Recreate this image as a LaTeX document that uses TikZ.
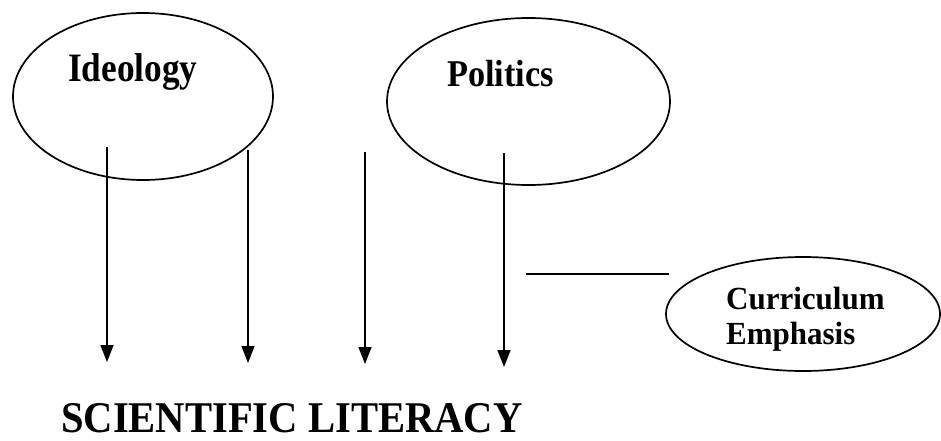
\documentclass[tikz,border=0pt]{standalone}
\usepackage{fontspec}
\setmainfont{Liberation Serif}
\usetikzlibrary{shapes.geometric,arrows.meta}
\begin{document}
\begin{tikzpicture}[x=1pt,y=-1pt,
  oval/.style={draw,ellipse,line width=1.7pt,inner sep=0pt},
  lbl/.style={font=\bfseries, inner sep=0pt, anchor=base west},
  downarrow/.style={line width=1.5pt,-{Triangle[length=17pt,width=13pt]}},
  plainline/.style={line width=1.5pt}]
\useasboundingbox (0,0) rectangle (941,441);
% ellipses
\node[oval,minimum width=260pt,minimum height=167pt] (ideo) at (143,96.5) {};
\node[oval,minimum width=283pt,minimum height=167pt] (poli) at (528.5,101.5) {};
\node[oval,minimum width=274pt,minimum height=114pt] (curr) at (803,314) {};
% labels
\node[lbl,font=\bfseries\fontsize{36}{40}\selectfont] (ideoT) at (68,82) {\scalebox{0.98}[1.12]{Ideology}};
\node[lbl,font=\bfseries\fontsize{35}{40}\selectfont] (poliT) at (447,87) {\scalebox{0.98}[1.08]{Politics}};
\node[lbl,font=\bfseries\fontsize{31}{35}\selectfont] (currA) at (726,309) {\scalebox{1}[1.04]{Curriculum}};
\node[lbl,font=\bfseries\fontsize{31}{35}\selectfont] (currB) at (726,344) {\scalebox{1}[1.04]{Emphasis}};
\node[lbl,font=\bfseries\fontsize{41}{45}\selectfont] (sci) at (61,432) {\scalebox{0.99}[1.07]{SCIENTIFIC LITERACY}};
% arrow coordinates
\coordinate (a1s) at (107,147); \coordinate (a1e) at (107,362);
\coordinate (a2s) at (248,150); \coordinate (a2e) at (248,363);
\coordinate (a3s) at (365,152); \coordinate (a3e) at (365,364);
\coordinate (a4s) at (504,153); \coordinate (a4e) at (504,367);
\draw[downarrow] (a1s) -- (a1e);
\draw[downarrow] (a2s) -- (a2e);
\draw[downarrow] (a3s) -- (a3e);
\draw[downarrow] (a4s) -- (a4e);
% connector line
\coordinate (hl) at (526,274); \coordinate (hr) at (669,274);
\draw[plainline] (hl) -- (hr);
\end{tikzpicture}
\end{document}
